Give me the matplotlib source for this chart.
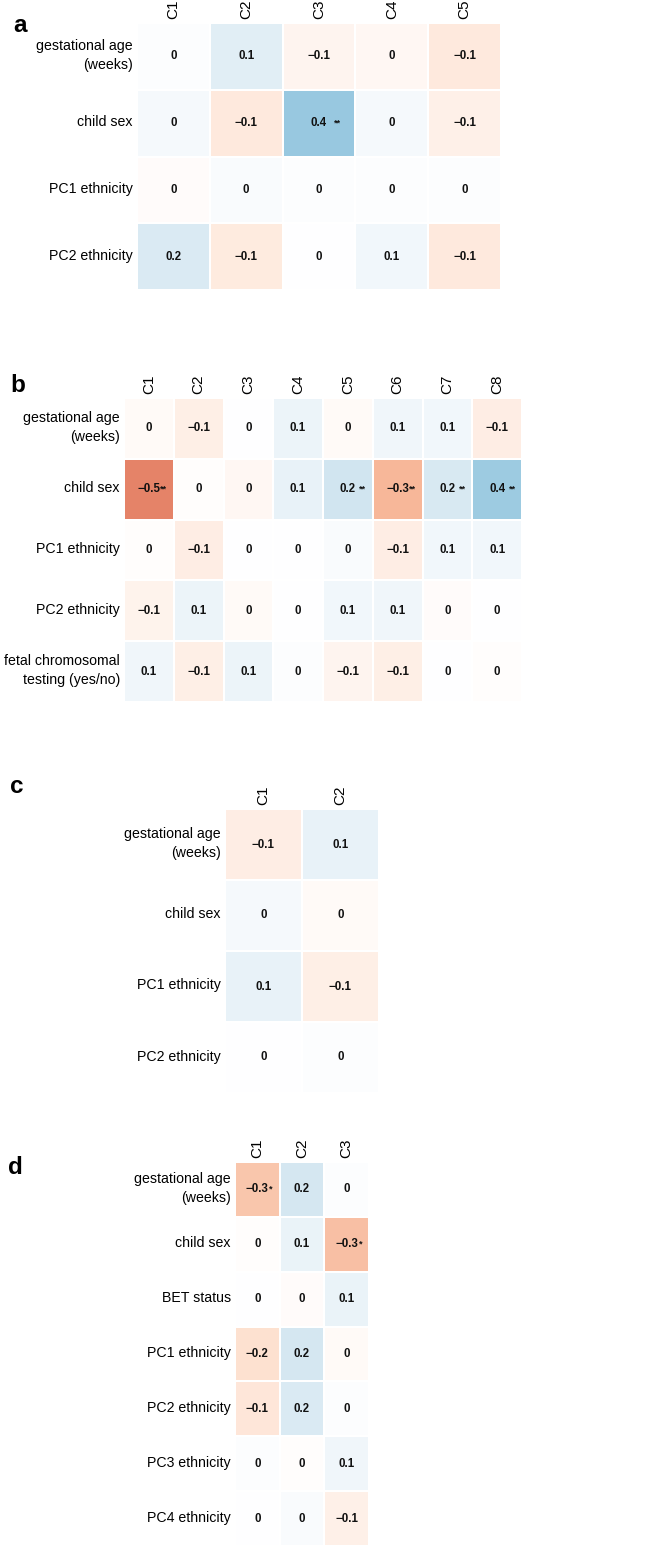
import matplotlib
matplotlib.use("Agg")
import matplotlib.pyplot as plt
import matplotlib.transforms as mtransforms
import numpy as np
from matplotlib.colors import LinearSegmentedColormap

plt.rcParams['font.family'] = ['Liberation Sans', 'DejaVu Sans']

# ---- data -------------------------------------------------------------
a_rows = ["gestational age\n(weeks)", "child sex", "PC1 ethnicity", "PC2 ethnicity"]
a_cols = ["C1", "C2", "C3", "C4", "C5"]
a_vals = [[0.01, 0.13, -0.06, -0.04, -0.12],
          [0.04, -0.12, 0.38, 0.04, -0.08],
          [-0.02, 0.03, 0.01, 0.01, 0.01],
          [0.16, -0.11, 0.0, 0.06, -0.12]]
a_sig = [["", "", "", "", ""],
         ["", "", "**", "", ""],
         ["", "", "", "", ""],
         ["", "", "", "", ""]]

b_rows = ["gestational age\n(weeks)", "child sex", "PC1 ethnicity", "PC2 ethnicity",
          "fetal chromosomal\ntesting (yes/no)"]
b_cols = ["C1", "C2", "C3", "C4", "C5", "C6", "C7", "C8"]
b_vals = [[-0.03, -0.09, 0.0, 0.08, -0.03, 0.07, 0.06, -0.1],
          [-0.5, -0.01, -0.04, 0.1, 0.2, -0.33, 0.17, 0.36],
          [-0.01, -0.1, 0.0, 0.0, 0.03, -0.1, 0.06, 0.06],
          [-0.07, 0.08, -0.03, 0.0, 0.06, 0.07, -0.02, 0.0],
          [0.07, -0.09, 0.08, 0.01, -0.06, -0.09, 0.0, -0.01]]
b_sig = [["", "", "", "", "", "", "", ""],
         ["**", "", "", "", "**", "**", "**", "**"],
         ["", "", "", "", "", "", "", ""],
         ["", "", "", "", "", "", "", ""],
         ["", "", "", "", "", "", "", ""]]

c_rows = ["gestational age\n(weeks)", "child sex", "PC1 ethnicity", "PC2 ethnicity"]
c_cols = ["C1", "C2"]
c_vals = [[-0.1, 0.1],
          [0.04, -0.03],
          [0.1, -0.09],
          [0.0, 0.01]]
c_sig = [["", ""], ["", ""], ["", ""], ["", ""]]

d_rows = ["gestational age\n(weeks)", "child sex", "BET status", "PC1 ethnicity",
          "PC2 ethnicity", "PC3 ethnicity", "PC4 ethnicity"]
d_cols = ["C1", "C2", "C3"]
d_vals = [[-0.28, 0.18, 0.01],
          [-0.01, 0.09, -0.3],
          [0.0, -0.02, 0.09],
          [-0.17, 0.18, -0.03],
          [-0.14, 0.16, 0.01],
          [0.01, -0.01, 0.07],
          [0.0, 0.03, -0.08]]
d_sig = [["*", "", ""],
         ["", "", "*"],
         ["", "", ""],
         ["", "", ""],
         ["", "", ""],
         ["", "", ""],
         ["", "", ""]]

# ---- style ------------------------------------------------------------
W, H = 646, 1547
rdbu = ["#67001f", "#b2182b", "#d6604d", "#f4a582", "#fddbc7", "#ffffff",
        "#d1e5f0", "#92c5de", "#4393c3", "#2166ac", "#053061"]
cmap = LinearSegmentedColormap.from_list("rdbu_w", rdbu)

fig = plt.figure(figsize=(W / 100, H / 100), dpi=100)


def px_rect(x0, y0, x1, y1):
    return [x0 / W, 1 - y1 / H, (x1 - x0) / W, (y1 - y0) / H]


def fmt(v):
    r = round(v, 1) + 0.0
    if r == 0:
        return "0"
    s = f"{abs(r):g}"
    return ("\u2212" + s) if r < 0 else s


def panel(rect, letter, letter_xy, rows, cols, vals, sig, star_dx):
    ax = fig.add_axes(px_rect(*rect))
    m = np.array(vals)
    ax.pcolormesh(m, cmap=cmap, vmin=-1, vmax=1, edgecolors="white", linewidth=1.2)
    ax.set_xlim(0, len(cols))
    ax.set_ylim(len(rows), 0)
    for i in range(len(rows)):
        for j in range(len(cols)):
            ax.text(j + 0.5, i + 0.5, fmt(m[i, j]), ha="center", va="center",
                    fontsize=8.3, fontweight="bold", color="#111111")
            if sig[i][j]:
                ax.text(j + 0.5 + star_dx, i + 0.5, sig[i][j], ha="center", va="center",
                        fontsize=6.5, fontweight="bold", color="#111111")
    ax.xaxis.tick_top()
    ax.set_xticks(np.arange(len(cols)) + 0.5)
    ax.set_xticklabels(cols, rotation=90, fontsize=11)
    ax.set_yticks(np.arange(len(rows)) + 0.5)
    ax.set_yticklabels(rows, fontsize=10.2, ha="right", multialignment="right",
                       linespacing=1.45)
    ax.tick_params(length=0, pad=3)
    # row labels sit a little above the row centres in the reference
    for lab in ax.get_yticklabels():
        up = 5 if "\n" in lab.get_text() else 2.5
        lab.set_transform(lab.get_transform() +
                          mtransforms.ScaledTranslation(0, up / 100, fig.dpi_scale_trans))
    for s in ax.spines.values():
        s.set_visible(False)
    fig.text(letter_xy[0] / W, 1 - letter_xy[1] / H, letter, fontsize=17.5,
             fontweight="bold", ha="left", va="baseline")
    return ax


panel((137, 23, 501, 290), "a", (13, 32), a_rows, a_cols, a_vals, a_sig, 0.26)
panel((124, 398, 522, 702), "b", (10, 392), b_rows, b_cols, b_vals, b_sig, 0.30)
panel((225, 809, 379, 1093), "c", (10, 793), c_rows, c_cols, c_vals, c_sig, 0.30)
panel((235, 1162, 369, 1546), "d", (8, 1174), d_rows, d_cols, d_vals, d_sig, 0.31)

fig.savefig("out.png", dpi=100)
